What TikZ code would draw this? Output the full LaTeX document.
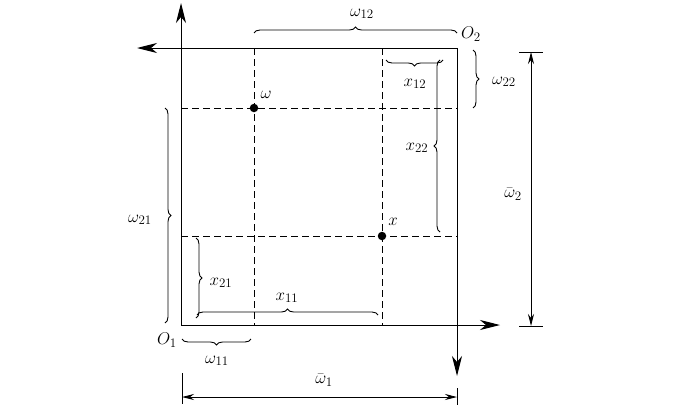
\RequirePackage{fix-cm}
\documentclass[tikz,border=0pt]{standalone}
\DeclareMathSizes{17}{17}{13}{10}
\usetikzlibrary{arrows.meta,decorations.pathreplacing}
\begin{document}
\begin{tikzpicture}[x=1pt,y=-1pt,
  axis/.style={line width=1pt,-{Stealth[length=20pt,width=10pt,inset=6pt]}},
  dashline/.style={line width=0.9pt,dash pattern=on 7pt off 4pt},
  dimline/.style={line width=0.9pt,{Stealth[length=12pt,width=6pt]}-{Stealth[length=12pt,width=6pt]}},
  tick/.style={line width=0.9pt},
  brc/.style={line width=0.9pt,decorate,decoration={brace,amplitude=6pt}},
  lbl/.style={inner sep=0pt,font=\fontsize{17}{20}\selectfont},
  dot/.style={circle,fill=black,inner sep=0pt,minimum size=8.5pt}]
\useasboundingbox (0,0) rectangle (684,415);
% corners and axis ends
\coordinate (O1) at (181,325);
\coordinate (O2) at (457,48);
\coordinate (yend) at (181,3);
\coordinate (xend) at (500,325);
\coordinate (lend) at (137,48);
\coordinate (dend) at (457,376);
% axes
\draw[axis] (O1) -- (yend);
\draw[axis] (O1) -- (xend);
\draw[axis] (O2) -- (lend);
\draw[axis] (O2) -- (dend);
% dashed grid
\coordinate (wT) at (254,48);  \coordinate (wB) at (254,325);
\coordinate (xT) at (382,48);  \coordinate (xB) at (382,325);
\coordinate (wL) at (181,108); \coordinate (wR) at (457,108);
\coordinate (xL) at (181,236); \coordinate (xR) at (457,236);
\draw[dashline] (wT) -- (wB);
\draw[dashline] (xT) -- (xB);
\draw[dashline] (wL) -- (wR);
\draw[dashline] (xL) -- (xR);
\node[dot] (w) at (254,108) {};
\node[dot] (x) at (382,236) {};
\node[lbl] (wlab) at (266,95) {$\omega$};
\node[lbl] (xlab) at (393,222) {$x$};
% corner labels
\node[lbl] (O1lab) at (167,340) {$O_1$};
\node[lbl] (O2lab) at (471,34) {$O_2$};
% braces
\coordinate (b12a) at (254,33);  \coordinate (b12b) at (457,33);
\draw[brc] (b12a) -- (b12b);
\node[lbl] (w12) at (362,14) {$\omega_{12}$};
\coordinate (bx12a) at (443,60); \coordinate (bx12b) at (386,60);
\draw[brc] (bx12a) -- (bx12b);
\node[lbl] (x12) at (415,84) {$x_{12}$};
\coordinate (bx22a) at (440,232); \coordinate (bx22b) at (440,60);
\draw[brc] (bx22a) -- (bx22b);
\node[lbl] (x22) at (417,148) {$x_{22}$};
\coordinate (b22a) at (473,50); \coordinate (b22b) at (473,108);
\draw[brc] (b22a) -- (b22b);
\node[lbl] (w22) at (504,82) {$\omega_{22}$};
\coordinate (b21a) at (165,108); \coordinate (b21b) at (165,323);
\draw[brc] (b21a) -- (b21b);
\node[lbl] (w21) at (140,220) {$\omega_{21}$};
\coordinate (bx21a) at (196,238); \coordinate (bx21b) at (196,318);
\draw[brc] (bx21a) -- (bx21b);
\node[lbl] (x21) at (221,283) {$x_{21}$};
\coordinate (bx11a) at (197,315); \coordinate (bx11b) at (378,315);
\draw[brc] (bx11a) -- (bx11b);
\node[lbl] (x11) at (287,298) {$x_{11}$};
\coordinate (b11a) at (251,339); \coordinate (b11b) at (182,339);
\draw[brc] (b11a) -- (b11b);
\node[lbl] (w11) at (217,361) {$\omega_{11}$};
% dimension omega bar 1
\coordinate (d1a) at (182,397); \coordinate (d1b) at (457,397);
\coordinate (t1a) at (182,373); \coordinate (t1b) at (182,404);
\coordinate (t2a) at (457,388); \coordinate (t2b) at (457,405);
\draw[tick] (t1a) -- (t1b);
\draw[tick] (t2a) -- (t2b);
\draw[dimline] (d1a) -- (d1b);
\node[lbl] (wb1) at (324,380) {$\bar\omega_1$};
% dimension omega bar 2
\coordinate (d2a) at (531,52); \coordinate (d2b) at (531,326);
\coordinate (t3a) at (519,52); \coordinate (t3b) at (543,52);
\coordinate (t4a) at (519,326); \coordinate (t4b) at (543,326);
\draw[tick] (t3a) -- (t3b);
\draw[tick] (t4a) -- (t4b);
\draw[dimline] (d2a) -- (d2b);
\node[lbl] (wb2) at (513,194) {$\bar\omega_2$};
\end{tikzpicture}
\end{document}
